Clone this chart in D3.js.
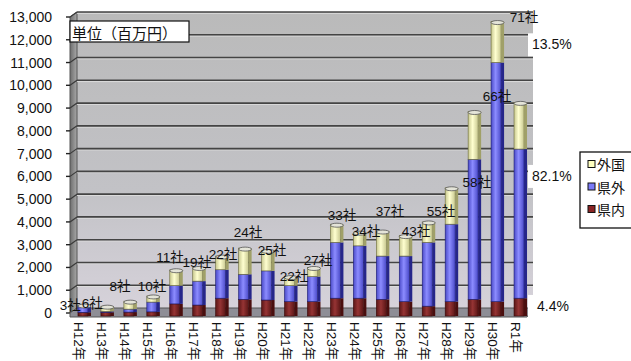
<!DOCTYPE html>
<html><head><meta charset="utf-8">
<script src="https://cdn.jsdelivr.net/npm/d3@7"></script>
<style>html,body{margin:0;padding:0;background:#fff;}svg{display:block;}</style>
</head><body>
<script>
const categories = ["H12年","H13年","H14年","H15年","H16年","H17年","H18年","H19年","H20年","H21年","H22年","H23年","H24年","H25年","H26年","H27年","H28年","H29年","H30年","R1年"];
const kennai  = [30, 30, 40, 50, 400, 350, 650, 600, 570, 500, 500, 650, 650, 600, 500, 300, 500, 600, 500, 650];
const kengai  = [270, 40, 130, 430, 800, 1050, 1250, 1100, 1280, 700, 1100, 2450, 2300, 1900, 2000, 2800, 3400, 6150, 10500, 6550];
const gaikoku = [50, 230, 350, 270, 700, 600, 600, 1150, 900, 400, 400, 800, 600, 1100, 900, 900, 1600, 2100, 1800, 2050];
const yTicks = [0,1000,2000,3000,4000,5000,6000,7000,8000,9000,10000,11000,12000,13000];
const seriesNames = ["外国","県外","県内"];
const companyText  = ["3社","6社","8社","10社","11社","19社","22社","24社","25社","22社","27社","33社","34社","37社","43社","55社","58社","66社","71社"];
const companyIndex = [-0.6,0.36,1.57,2.96,3.75,4.92,6.06,7.15,8.19,9.15,10.2,11.24,12.29,13.33,14.47,15.56,17.12,18.0,19.17];
const companyLevel = [351,439,1142,1142,2416,2196,2591,3514,2723,1625,2284,4304,3558,4436,3558,4436,5710,9487,13000];
const shareText  = ["13.5%","82.1%","4.4%"];
const shareLevel = [11800,6020,310];

const W = 631, H = 361;
const svg = d3.select("body").append("svg").attr("width", W).attr("height", H);
svg.append("rect").attr("width", W).attr("height", H).attr("fill", "#fff");
const defs = svg.append("defs");

const y = d3.scaleLinear().domain([0, 13000]).range([313, 17]);
const x = d3.scaleBand().domain(categories).range([72.5, 531.5]).padding(0);
const cx = c => x(c) + x.bandwidth() / 2;
const lx = d3.scaleLinear().domain([0, categories.length - 1]).range([cx(categories[0]), cx(categories[categories.length - 1])]);

const depth = 5, wallL = 77, wallR = 533;

// gradients
const gBack = defs.append("linearGradient").attr("id", "gBack").attr("x1", 0).attr("y1", 0).attr("x2", 0).attr("y2", 1);
gBack.append("stop").attr("offset", "0").attr("stop-color", "#bababa");
gBack.append("stop").attr("offset", "0.6").attr("stop-color", "#c2c2c6");
gBack.append("stop").attr("offset", "1").attr("stop-color", "#d6d2da");
const gLeft = defs.append("linearGradient").attr("id", "gLeft").attr("x1", 0).attr("y1", 0).attr("x2", 1).attr("y2", 0);
gLeft.append("stop").attr("offset", "0").attr("stop-color", "#6e6e6e");
gLeft.append("stop").attr("offset", "1").attr("stop-color", "#a8a8a8");

function hGrad(id, edge, mid) {
  const g = defs.append("linearGradient").attr("id", id).attr("x1", 0).attr("y1", 0).attr("x2", 1).attr("y2", 0);
  g.append("stop").attr("offset", "0").attr("stop-color", edge);
  g.append("stop").attr("offset", "0.45").attr("stop-color", mid);
  g.append("stop").attr("offset", "1").attr("stop-color", edge);
}
hGrad("gY", "#c8c890", "#ffffd0");
hGrad("gB", "#4a4ac8", "#8c8cff");
hGrad("gR", "#5a1616", "#963434");

// back wall
svg.append("rect").attr("x", wallL).attr("y", y(13000) - depth).attr("width", wallR - wallL)
  .attr("height", y(0) - y(13000)).attr("fill", "url(#gBack)");
// left wall
svg.append("polygon")
  .attr("points", [[70, y(13000)], [wallL, y(13000) - depth], [wallL, y(0) - depth], [70, y(0)]].map(p => p.join(",")).join(" "))
  .attr("fill", "url(#gLeft)").attr("stroke", "#555").attr("stroke-width", 1);

// gridlines
const gridG = svg.append("g");
yTicks.forEach(v => {
  const yy = y(v) - depth;
  if (v > 0) {
    gridG.append("line").attr("x1", wallL).attr("x2", wallR).attr("y1", yy + 1.3).attr("y2", yy + 1.3).attr("stroke", "#dcdcdc").attr("stroke-width", 1);
    gridG.append("line").attr("x1", wallL).attr("x2", wallR).attr("y1", yy).attr("y2", yy).attr("stroke", "#444").attr("stroke-width", 1.6);
    gridG.append("line").attr("x1", 70).attr("x2", wallL).attr("y1", y(v)).attr("y2", yy).attr("stroke", "#3a3a3a").attr("stroke-width", 1.2);
  }
  gridG.append("line").attr("x1", 66).attr("x2", 70).attr("y1", y(v)).attr("y2", y(v)).attr("stroke", "#222").attr("stroke-width", 1.4);
});

// floor
svg.append("polygon")
  .attr("points", [[70, y(0)], [wallL, y(0) - depth], [wallR, y(0) - depth], [wallR - 6, y(0) + 4], [70, y(0) + 4]].map(p => p.join(",")).join(" "))
  .attr("fill", "#8e8e96").attr("stroke", "#555").attr("stroke-width", 1);

// axis labels
svg.append("g").selectAll("text").data(yTicks).join("text")
  .attr("x", 52).attr("y", d => y(d)).attr("text-anchor", "end").attr("dominant-baseline", "central")
  .attr("font-family", "Liberation Sans, Arial, sans-serif").attr("font-size", 14).attr("fill", "#111")
  .text(d => d3.format(",")(d));

svg.append("g").selectAll("text").data(categories).join("text")
  .attr("transform", d => `translate(${cx(d) - 5},322) rotate(90)`)
  .attr("dominant-baseline", "central")
  .attr("font-family", "Liberation Sans, 'Noto Sans CJK JP', sans-serif").attr("font-size", 13.5).attr("fill", "#111")
  .text(d => d);

// stacked bars
const rows = categories.map((c, i) => ({ cat: c, "県内": kennai[i], "県外": kengai[i], "外国": gaikoku[i] }));
const stack = d3.stack().keys(["県内", "県外", "外国"])(rows);
const fills = { "県内": ["url(#gR)", "#4a0e0e", "#3a0808"], "県外": ["url(#gB)", "#26268a", "#1a1a70"], "外国": ["url(#gY)", "#a0a068", "#6a6a3a"] };
const base = y(0) + 3;
const barG = svg.append("g");
stack.forEach(layer => {
  const f = fills[layer.key];
  layer.forEach((d, i) => {
    const c = cx(categories[i]);
    const top = y(d[1]), bot = d[0] === 0 ? base : y(d[0]);
    if (bot - top <= 0) return;
    barG.append("rect").attr("x", c - 6).attr("y", top).attr("width", 10).attr("height", bot - top)
      .attr("fill", f[0]).attr("stroke", f[2]).attr("stroke-width", 0.6);
    barG.append("rect").attr("x", c + 4).attr("y", top).attr("width", 3).attr("height", bot - top)
      .attr("fill", f[1]);
  });
});
// top caps
const totals = categories.map((c, i) => kennai[i] + kengai[i] + gaikoku[i]);
barG.selectAll("ellipse").data(totals).join("ellipse")
  .attr("cx", (d, i) => cx(categories[i]) + 0.5).attr("cy", d => y(d) + 1)
  .attr("rx", 6.5).attr("ry", 2).attr("fill", "#e4e4d8").attr("stroke", "#555").attr("stroke-width", 0.8);

// company labels
svg.append("g").selectAll("text").data(companyText).join("text")
  .attr("x", (d, i) => lx(companyIndex[i])).attr("y", (d, i) => y(companyLevel[i]))
  .attr("text-anchor", "middle").attr("dominant-baseline", "central")
  .attr("font-family", "Liberation Sans, 'Noto Sans CJK JP', sans-serif").attr("font-size", 13.5).attr("fill", "#111")
  .text(d => d);

// unit box
svg.append("rect").attr("x", 70).attr("y", 21).attr("width", 119).attr("height", 21)
  .attr("fill", "#fff").attr("stroke", "#111").attr("stroke-width", 1.2);
svg.append("text").attr("x", 72).attr("y", 32).attr("dominant-baseline", "central")
  .attr("font-family", "'Noto Sans CJK JP', sans-serif").attr("font-size", 15).attr("fill", "#111")
  .text("単位（百万円）");

// share labels (R1)
const shareG = svg.append("g");
shareText.forEach((t, i) => {
  const yy = y(shareLevel[i]);
  shareG.append("rect").attr("x", 528).attr("y", yy - 11).attr("width", 48).attr("height", 23).attr("fill", "#fff");
  shareG.append("text").attr("x", i === 2 ? 537 : 532).attr("y", yy).attr("dominant-baseline", "central")
    .attr("font-family", "Liberation Sans, Arial, sans-serif").attr("font-size", 14).attr("fill", "#111").text(t);
});

// legend
const lg = svg.append("g");
lg.append("rect").attr("x", 580).attr("y", 152).attr("width", 70).attr("height", 76)
  .attr("fill", "#fff").attr("stroke", "#111").attr("stroke-width", 1.3);
const legendColors = ["#ffffc0", "#7a7af8", "#8a2424"];
seriesNames.forEach((n, i) => {
  const yy = 164 + i * 22.5;
  lg.append("rect").attr("x", 588).attr("y", yy - 3.5).attr("width", 7).attr("height", 7)
    .attr("fill", legendColors[i]).attr("stroke", "#111").attr("stroke-width", 1);
  lg.append("text").attr("x", 597).attr("y", yy).attr("dominant-baseline", "central")
    .attr("font-family", "'Noto Sans CJK JP', sans-serif").attr("font-size", 14).attr("fill", "#111").text(n);
});
</script>
</body></html>
